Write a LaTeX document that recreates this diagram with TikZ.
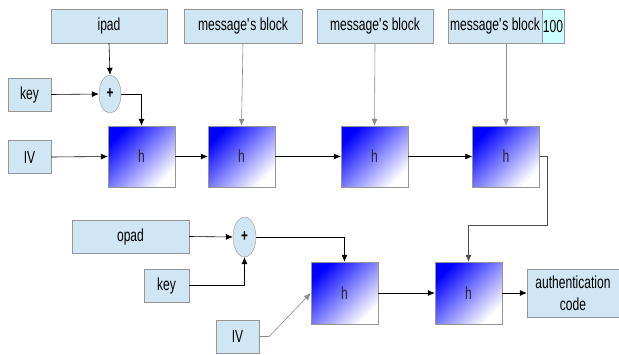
\documentclass[tikz,border=0pt]{standalone}
\usepackage{fontspec}
\setmainfont[FakeStretch=0.69]{Liberation Sans}
\usetikzlibrary{arrows.meta,shapes.geometric,calc}
\definecolor{boxfill}{RGB}{208,230,244}
\definecolor{boxline}{RGB}{150,150,150}
\definecolor{padfill}{RGB}{204,255,255}
\newcommand{\msgblock}{message\textquotesingle s block}
\tikzset{
  inbox/.style={draw=boxline, fill=boxfill, rectangle, inner sep=1pt, align=center},
  hbox/.style={draw=boxline, rectangle, minimum width=67pt, minimum height=61pt,
    top color=blue, bottom color=white, shading angle=45, text=black!85},
  xorop/.style={draw=boxline, fill=boxfill, ellipse, inner sep=0pt,
    minimum width=22pt, minimum height=38pt, font=\fontsize{17}{17}\selectfont\bfseries},
  arr/.style={-{Latex[length=7pt,width=6pt]}, line width=0.6pt},
  grayarr/.style={arr, draw=black!45},
}
\begin{document}
\begin{tikzpicture}[x=1pt,y=-1pt,font=\fontsize{17.5}{22}\selectfont]
\useasboundingbox (0,0) rectangle (619,354);

% inner hash chain inputs
\node[inbox, minimum width=116pt, minimum height=34pt] (ipad) at (109,26) {ipad};
\node[inbox, minimum width=118pt, minimum height=34pt] (msgA) at (243,26) {\msgblock};
\node[inbox, minimum width=116pt, minimum height=34pt] (msgB) at (375,26) {\msgblock};
\node[inbox, minimum width=94pt, minimum height=34pt] (msgC) at (495,26) {\msgblock};
\node[inbox, fill=padfill, minimum width=22pt, minimum height=34pt] (padC) at (553,26) {100};
\node[inbox, minimum width=43pt, minimum height=33pt] (keyA) at (29.5,94.5) {key};
\node[inbox, minimum width=43pt, minimum height=33pt] (ivA) at (29.5,157) {IV};
\node[xorop] (xorA) at (110,94) {+};

% inner hash compression steps
\node[hbox] (hA) at (141.5,156.5) {h};
\node[hbox] (hB) at (241.5,156.5) {h};
\node[hbox] (hC) at (374.5,156.5) {h};
\node[hbox] (hD) at (506,156.5) {h};

% outer hash inputs
\node[inbox, minimum width=117pt, minimum height=33pt] (opad) at (130.5,236.5) {opad};
\node[inbox, minimum width=45pt, minimum height=33pt] (keyB) at (166.5,285.5) {key};
\node[inbox, minimum width=43pt, minimum height=33pt] (ivB) at (237.5,336.5) {IV};
\node[xorop, minimum width=23pt, minimum height=40pt] (xorB) at (244.5,237) {+};

% outer hash compression steps and result
\node[hbox, minimum height=62pt] (hE) at (344.5,293) {h};
\node[hbox, minimum height=62pt] (hF) at (468.5,293) {h};
\node[inbox, minimum width=92pt, minimum height=48pt] (auth) at (573,293) {authentication\\code};

% inner connectors
\draw[arr] (ipad.south) -- (xorA.north);
\draw[arr] (keyA.east) -- (xorA.west);
\draw[arr] (xorA.east) -| (hA.north);
\draw[arr] (ivA.east) -- (hA.west);
\draw[arr] (hA.east) -- (hB.west);
\draw[arr] (hB.east) -- (hC.west);
\draw[arr] (hC.east) -- (hD.west);
\draw[grayarr] (msgA.south) -- (hB.north);
\draw[grayarr] (msgB.south) -- (hC.north);
\coordinate (lastblk) at ($(msgC.south west)!0.5!(padC.south east)$);
\draw[grayarr] (lastblk) -- (lastblk |- hD.north);

% inner digest fed into the outer hash
\draw[arr, draw=black!70] (hD.east) -- ++(8,0) coordinate (bend)
  -- (bend |- 0,225) coordinate (turn) -| (hF.north);

% outer connectors
\draw[arr] (opad.east) -- (xorB.west);
\draw[arr] (keyB.east) -| (xorB.south);
\draw[arr] (xorB.east) -| (hE.north);
\draw[grayarr] (ivB.east) -- ++(10,0) -- (hE.west);
\draw[arr] (hE.east) -- (hF.west);
\draw[arr] (hF.east) -- (auth.west);
\end{tikzpicture}
\end{document}
